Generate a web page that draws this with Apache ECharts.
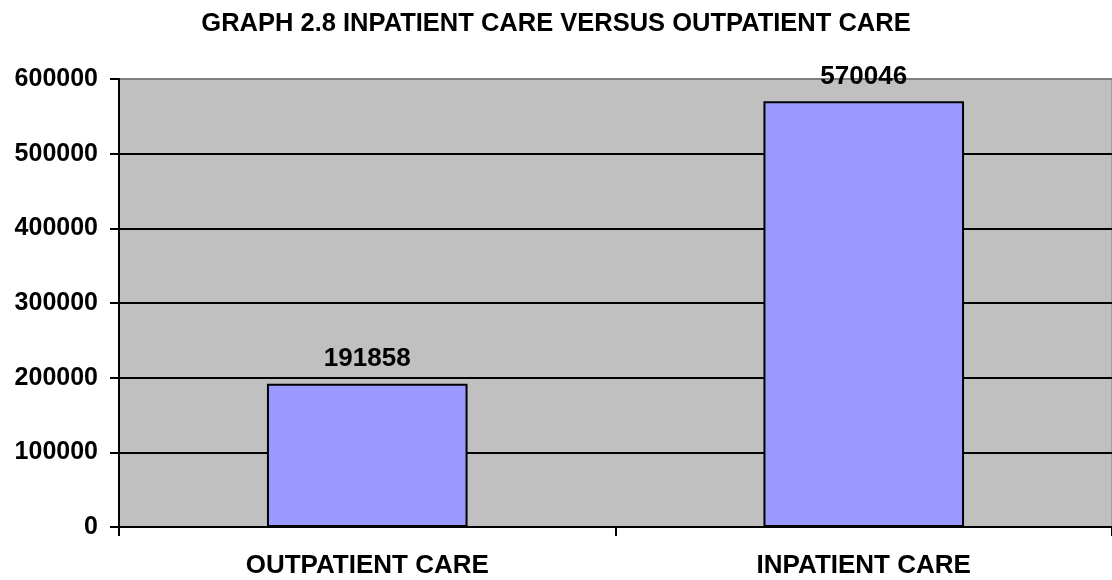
<!DOCTYPE html>
<html><head><meta charset="utf-8">
<script src="https://cdn.jsdelivr.net/npm/echarts@6/dist/echarts.min.js"></script>
<style>html,body{margin:0;padding:0;background:#fff}#c{width:1112px;height:580px}</style>
</head><body><div id="c"></div>
<script>
const title = 'GRAPH 2.8 INPATIENT CARE VERSUS OUTPATIENT CARE';
const categories = ['OUTPATIENT CARE', 'INPATIENT CARE'];
const values = [191858, 570046];
const yTicks = [0, 100000, 200000, 300000, 400000, 500000, 600000];

const chart = echarts.init(document.getElementById('c'), null, {renderer: 'canvas'});
const font = 'Liberation Sans, Arial, sans-serif';
chart.setOption({
  animation: false,
  backgroundColor: '#fff',
  title: {
    text: title, left: 'center', top: 6,
    textStyle: {fontFamily: font, fontWeight: 'bold', fontSize: 25.5, color: '#000'}
  },
  grid: {
    left: 119, width: 1000, top: 79, bottom: 53,
    show: true, backgroundColor: '#c0c0c0', borderColor: '#808080', borderWidth: 1
  },
  xAxis: {
    type: 'category', data: categories,
    axisLine: {lineStyle: {color: '#000', width: 2}},
    axisTick: {show: true, length: 9, lineStyle: {color: '#000', width: 2}},
    axisLabel: {fontFamily: font, fontWeight: 'bold', fontSize: 26, color: '#000', margin: 26}
  },
  yAxis: {
    type: 'value', min: yTicks[0], max: yTicks[yTicks.length - 1], interval: 100000,
    axisLine: {show: true, lineStyle: {color: '#000', width: 2}},
    axisTick: {show: true, length: 9, lineStyle: {color: '#000', width: 2}},
    axisLabel: {fontFamily: font, fontWeight: 'bold', fontSize: 25, color: '#000', margin: 21,
      formatter: v => String(v)},
    splitLine: {show: true, lineStyle: {color: ['#000', '#000', '#000', '#000', '#000', '#000', '#808080'], width: 2}}
  },
  series: [{
    type: 'bar', data: values, barWidth: '40.4%',
    itemStyle: {color: '#9999ff', borderColor: '#000', borderWidth: 2},
    label: {show: true, position: 'top', distance: 12, fontFamily: font, fontWeight: 'bold', fontSize: 26, color: '#000'}
  }]
});
</script></body></html>
